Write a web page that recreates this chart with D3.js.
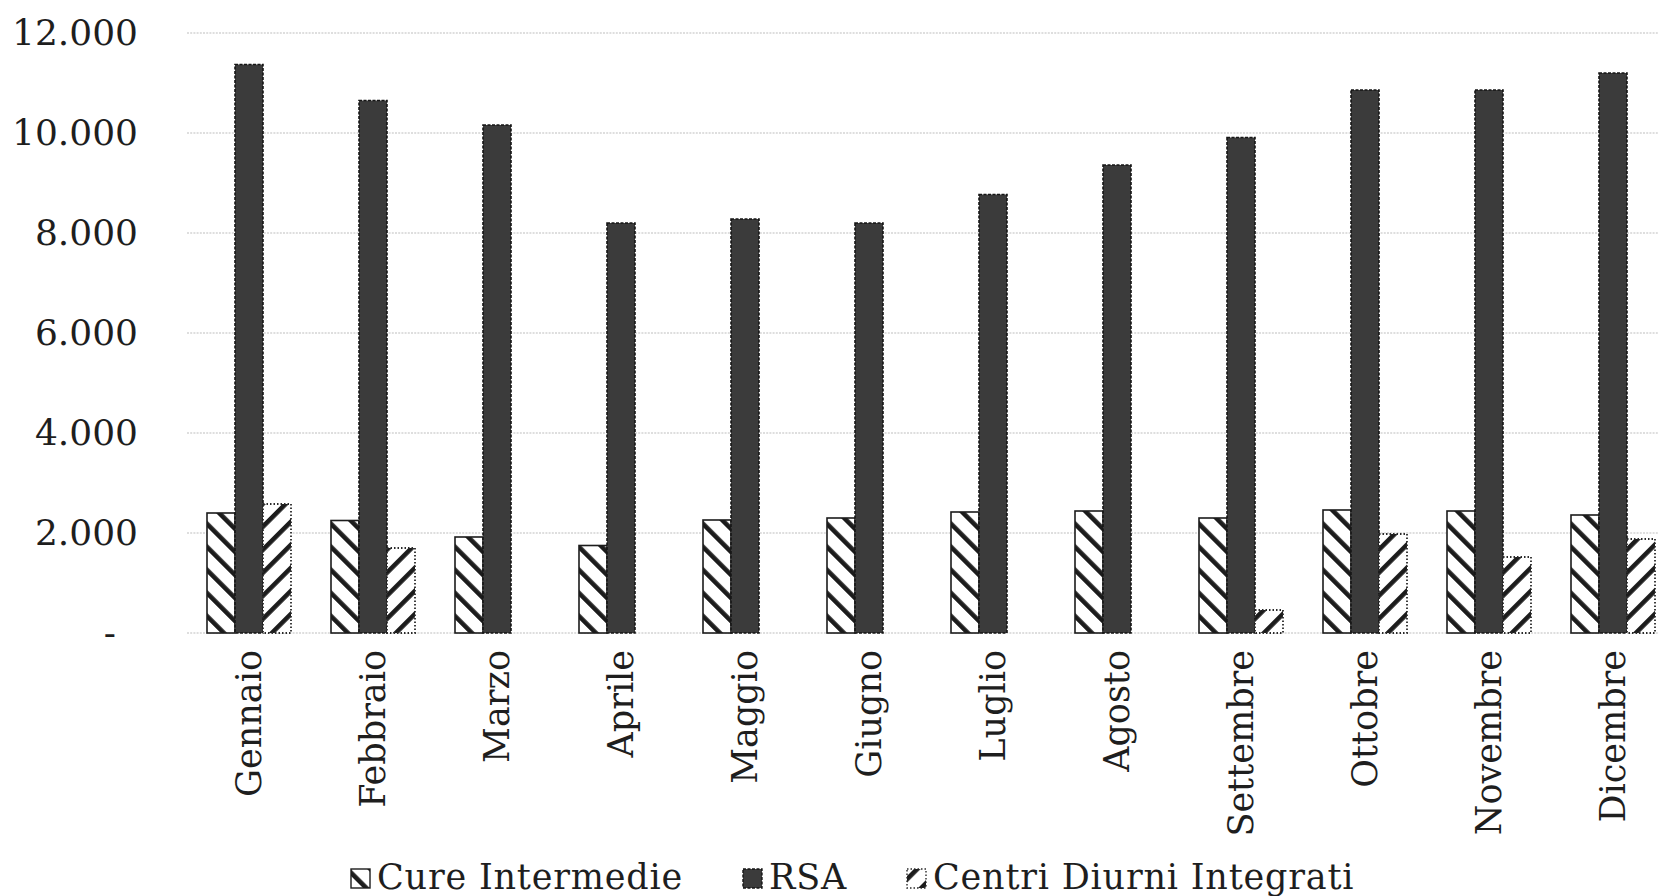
<!DOCTYPE html>
<html>
<head>
<meta charset="utf-8">
<script src="https://cdn.jsdelivr.net/npm/d3@7"></script>
<style>
  body { margin: 0; background: #fff; }
  svg { display: block; }
  text { font-family: "DejaVu Serif", serif; fill: #1e1e1e; }
</style>
</head>
<body>
<svg id="chart"></svg>
<script>
/* values */
let months = ['Gennaio', 'Febbraio', 'Marzo', 'Aprile', 'Maggio', 'Giugno',
    'Luglio', 'Agosto', 'Settembre', 'Ottobre', 'Novembre', 'Dicembre'];
let series = ['Cure Intermedie', 'RSA', 'Centri Diurni Integrati'];
let cureIntermedie = [2400, 2250, 1920, 1750, 2260, 2300, 2420, 2440, 2300, 2460, 2440, 2360];
let rsa = [11370, 10650, 10160, 8200, 8280, 8200, 8770, 9360, 9910, 10860, 10860, 11200];
let centriDiurni = [2580, 1700, 0, 0, 0, 0, 0, 0, 460, 1980, 1520, 1880];
let yTicks = [0, 2000, 4000, 6000, 8000, 10000, 12000];

let width = 1659;
let height = 896;

/* the plot runs past the right edge, like the cropped original */
let plot = { left: 187, right: 1675, top: 33, bottom: 633 };

let table = months.map((m, i) => ({
    month: m,
    values: [
        { key: series[0], value: cureIntermedie[i] },
        { key: series[1], value: rsa[i] },
        { key: series[2], value: centriDiurni[i] }
    ]
}));

let x0 = d3.scaleBand().domain(months).range([plot.left, plot.right]).padding(0);
let x1 = d3.scaleBand().domain(series).range([20, 104]).padding(0);
let y = d3.scaleLinear().domain([0, 12000]).range([plot.bottom, plot.top]);

let it = d3.formatLocale({ decimal: ',', thousands: '.', grouping: [3], currency: ['', ''] });
let fmt = it.format(',');

let svg = d3.select('#chart')
    .attr('width', width)
    .attr('height', height);

/* hatch patterns: "\" for Cure Intermedie, "/" for Centri Diurni */
let defs = svg.append('defs');
function hatch(id, angle) {
    let p = defs.append('pattern')
        .attr('id', id)
        .attr('patternUnits', 'userSpaceOnUse')
        .attr('width', 16.3)
        .attr('height', 16.3)
        .attr('patternTransform', `rotate(${angle})`);
    p.append('rect').attr('width', 16.3).attr('height', 16.3).attr('fill', '#fff');
    p.append('rect').attr('x', 0).attr('width', 4.6).attr('height', 16.3).attr('fill', '#1c1c1c');
}
hatch('hatchBack', -45);
hatch('hatchFwd', 45);

let styles = {
    'Cure Intermedie': { fill: 'url(#hatchBack)', stroke: '#1c1c1c', dash: null, sw: 1.6 },
    'RSA': { fill: '#3b3b3b', stroke: '#161616', dash: '3,1.5', sw: 1.6 },
    'Centri Diurni Integrati': { fill: 'url(#hatchFwd)', stroke: '#2a2a2a', dash: '1.5,2', sw: 1.8 }
};

/* gridlines */
svg.append('g')
    .selectAll('line')
    .data(yTicks)
    .join('line')
    .attr('x1', 187)
    .attr('x2', width)
    .attr('y1', d => y(d))
    .attr('y2', d => y(d))
    .attr('stroke', '#d4d4d4')
    .attr('stroke-width', 1.3)
    .attr('stroke-dasharray', '2,1.2');

/* y axis, labels only */
let yAxis = d3.axisLeft(y)
    .tickValues(yTicks)
    .tickSize(0)
    .tickPadding(0)
    .tickFormat(d => d === 0 ? '-' : fmt(d));
let yG = svg.append('g')
    .attr('transform', 'translate(138,0)')
    .call(yAxis);
yG.select('.domain').remove();
yG.selectAll('text')
    .style('font-size', '36px')
    .style('font-family', '"DejaVu Serif", serif')
    .attr('fill', '#1e1e1e')
    .attr('dx', d => d === 0 ? -22 : 0);

/* bars */
svg.append('g')
    .selectAll('g')
    .data(table)
    .join('g')
    .attr('transform', d => `translate(${x0(d.month)},0)`)
    .selectAll('rect')
    .data(d => d.values.filter(v => v.value > 0))
    .join('rect')
    .attr('x', d => x1(d.key))
    .attr('width', x1.bandwidth())
    .attr('y', d => y(d.value))
    .attr('height', d => y(0) - y(d.value))
    .attr('fill', d => styles[d.key].fill)
    .attr('stroke', d => styles[d.key].stroke)
    .attr('stroke-width', d => styles[d.key].sw)
    .attr('stroke-dasharray', d => styles[d.key].dash);

/* x axis with rotated month names */
let xAxis = d3.axisBottom(x0).tickSize(0).tickPadding(0);
let xG = svg.append('g')
    .attr('transform', `translate(0,${plot.bottom})`)
    .call(xAxis);
xG.select('.domain').remove();
xG.selectAll('text')
    .style('font-size', '35px')
    .style('font-family', '"DejaVu Serif", serif')
    .attr('fill', '#1e1e1e')
    .attr('transform', 'rotate(-90)')
    .attr('x', -17)
    .attr('y', 0)
    .attr('dy', '0.35em')
    .style('text-anchor', 'end');

/* legend */
let legend = svg.append('g').attr('transform', 'translate(351,0)');
let cursor = 0;
series.forEach(s => {
    let item = legend.append('g').attr('transform', `translate(${cursor},0)`);
    item.append('rect')
        .attr('x', 0)
        .attr('y', 869)
        .attr('width', 19)
        .attr('height', 19)
        .attr('fill', styles[s].fill)
        .attr('stroke', styles[s].stroke)
        .attr('stroke-width', 1.4)
        .attr('stroke-dasharray', styles[s].dash);
    let t = item.append('text')
        .attr('x', 26)
        .attr('y', 889)
        .style('font-size', '35px')
        .style('letter-spacing', '0.8px')
        .text(s);
    cursor += 26 + t.node().getComputedTextLength() + 60;
});
</script>
</body>
</html>
